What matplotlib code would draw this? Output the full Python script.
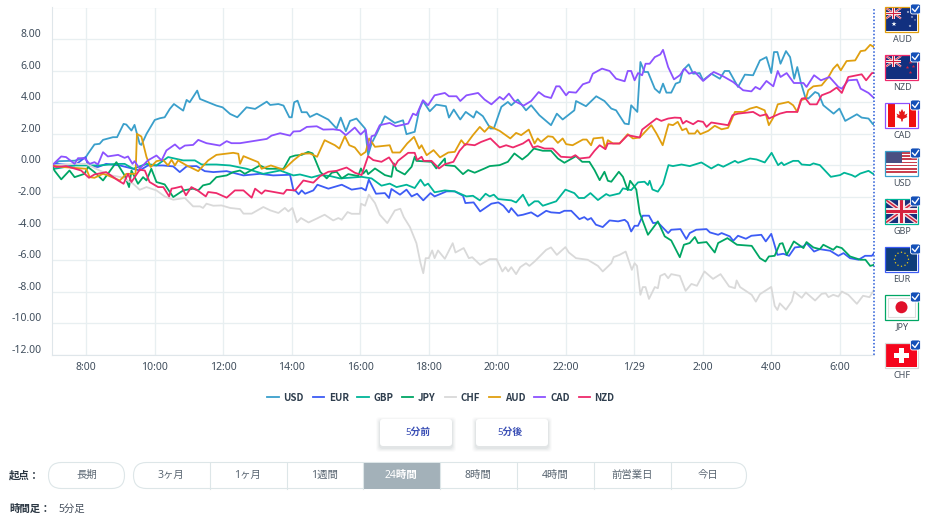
import matplotlib
matplotlib.use("Agg")
import matplotlib.pyplot as plt
from matplotlib.patches import FancyBboxPatch, Rectangle, Polygon, Circle
from matplotlib.transforms import ScaledTranslation

plt.rcParams['font.family'] = ['Noto Sans', 'Noto Sans CJK JP', 'DejaVu Sans']

# (hour, change %), hour 24 = 0:00 on 1/29
usd = [(7,0),(7.2,.27),(7.66,.3),(7.98,.5),(8.05,.74),(8.24,1.33),(8.39,1.37),(8.49,1.62),(8.78,1.79),(8.9,1.79),(9.09,2.63),(9.17,2.59),(9.32,2.21),(9.41,2.57),(9.56,1.37),(9.61,1.3),(9.76,2.0),(10,2.88),(10.15,2.99),(10.29,3.05),(10.44,3.58),(10.56,3.89),(10.83,3.47),(10.93,4.15),(11.02,4.0),(11.24,4.74),(11.32,4.21),(11.56,4.0),(11.8,3.79),(11.98,3.68),(12.2,3.26),(12.41,3.05),(12.68,3.68),(12.93,3.58),(13.27,4.04),(13.37,3.83),(13.61,3.89),(13.76,3.79),(13.93,3.05),(14,3.05),(14.07,4.0),(14.17,4.1),(14.29,3.37),(14.44,3.37),(14.53,3.07),
       (14.73,3.28),(15.07,2.9),(15.31,2.34),(15.43,3.03),(15.58,2.17),(15.7,2.82),(15.89,2.97),(16.14,2.34),(16.23,.65),(16.33,1.39),(16.48,2.02),(16.72,3.12),(17.01,2.69),(17.25,2.86),(17.35,1.98),(17.59,2.13),(17.72,3.49),(17.83,4.08),(18.03,3.43),(18.22,3.85),(18.5,3.75),(18.59,3.03),(18.73,3.54),(18.92,2.91),(19.08,3.39),(19.31,3.03),(19.39,3.43),(19.58,3.12),(19.8,2.34),(19.9,2.34),(20.12,3.71),(20.31,4.02),(20.41,3.81),(20.6,4.17),(20.84,3.49),(20.99,3.81),(21.23,3.18),(21.57,2.55),(21.74,3.28),(21.91,2.91),(22.25,3.49),(22.3,4.08),(22.59,3.75),(22.89,4.38),(23.13,4.08),(23.33,3.6),(23.47,3.49),(23.72,2.65),(23.84,2.61),(23.91,3.81),(24.09,3.39),(24.18,6.55),(24.3,5.92),(24.4,5.92),(24.6,4.86),(24.74,4.59),(24.84,5.18),(24.94,4.61),(25.08,4.61),(25.21,5.18),(25.33,5.28),(25.42,6.02),(25.59,6.4),(25.72,5.81),(25.91,5.85),(26.01,5.39),(26.25,5.81),(26.5,5.49),(26.64,5.98),(26.77,5.98),(27.03,4.97),(27.23,5.75),(27.47,5.71),(27.67,6.65),(27.86,6.86),(28,5.85),(28.08,7.18),(28.18,7.18),(28.27,6.44),(28.43,7.24),(28.55,6.86),(28.67,5.49),(28.76,6.23),(28.86,5.28),(28.99,4.34),(29.08,4.23),(29.28,4.65),(29.38,4.55),(29.52,3.81),(29.82,3.28),(29.99,3.6),(30.16,2.82),(30.5,3.24),(30.64,3.03),(30.84,2.97),(30.97,2.61),(31,2.65)]

eur = [(7,0),(7.12,.1),(7.66,0),(7.98,.53),(8.05,0),(8.34,-.1),(8.58,.1),(8.98,0),(9.37,-.21),(9.56,-.32),(9.8,0),(10.24,0),(10.54,-.06),(10.73,-.42),(10.93,-.06),(11.22,-.04),(11.46,-.36),(11.71,-.42),(12.1,-.36),(12.59,-.63),(13.07,-.53),(13.46,-.63),(13.95,-.59),(14.05,-1.58),(14.1,-1.58),(14.2,-1.82),(14.29,-1.58),(14.39,-1.79),(14.63,-1.58),(14.75,-1.22),(15.07,-1.47),(15.46,-1.22),(15.75,-1.53),(16.04,-1.43),(16.16,-1.58),(16.25,-.9),(16.46,-1.79),(16.72,-1.75),(16.84,-2.06),(16.91,-1.49),(17.16,-1.85),(17.35,-1.53),(17.5,-1.96),(17.66,-1.79),(17.84,-2.21),(18.05,-1.75),(18.17,-1.96),(18.52,-1.64),(18.76,-1.64),(19,-1.92),(19.07,-2.38),(19.31,-2.34),(19.5,-2.91),(19.83,-2.42),(20.03,-2.34),(20.18,-2.55),(20.34,-2.97),(20.41,-2.7),(20.6,-3.18),(20.75,-3.12),(20.99,-2.97),(21.18,-3.23),(21.43,-2.87),(21.57,-2.97),(21.82,-3.01),(21.96,-2.87),(22.16,-2.87),(22.4,-3.4),(22.54,-3.27),(22.64,-3.44),(22.74,-3.33),(22.88,-3.75),(23.08,-3.9),(23.28,-3.48),(23.53,-3.54),(23.72,-3.44),(23.81,-3.61),(23.91,-4.18),(24.01,-3.82),(24.11,-3.82),(24.25,-3.18),(24.43,-3.18),(24.55,-3.65),(24.69,-3.61),(24.99,-4.28),(25.08,-4.07),(25.35,-4.03),(25.52,-4.66),(25.62,-4.28),(25.81,-4.07),(26.11,-4.03),(26.21,-4.24),(26.45,-4.39),(26.55,-4.28),(26.79,-4.49),(26.89,-4.77),(27.03,-4.45),(27.26,-4.64),(27.42,-4.45),(27.71,-4.39),(27.84,-4.81),(28,-4.33),(28.08,-4.91),(28.18,-5.66),(28.35,-5.59),(28.52,-5.72),(28.69,-5.19),(28.94,-5.13),(29.03,-4.92),(29.25,-5.45),(29.42,-5.3),(29.72,-5.4),(29.96,-5.72),(30.11,-5.55),(30.3,-5.87),(30.55,-5.97),(30.74,-5.72),(30.94,-5.72),(31,-5.55)]

gbp = [(7,0),(7.07,-.21),(7.66,0),(8.39,0),(8.88,.1),(9.12,.1),(9.37,-.21),(9.76,.1),(10.05,0),(10.39,.53),(10.83,.32),(11.17,.32),(11.37,.06),(11.8,.06),(12.2,0),(12.68,-.21),(13.17,-.53),(13.66,-.32),(14.05,-.63),(14.24,-.57),(14.58,-.76),(14.83,-.61),(15.12,-.67),(15.41,-.82),(16.04,-.72),(16.33,-.82),(16.62,-1.28),(16.86,-1.15),(17.06,-1.37),(17.35,-1.22),(17.59,-1.43),(17.76,-.9),(17.88,-1.28),(17.98,-1.15),(18.17,-1.7),(18.47,-1.58),(18.76,-1.64),(19.1,-1.96),(19.29,-1.92),(19.49,-2.21),(19.66,-1.79),(19.78,-1.96),(19.9,-1.85),(20.03,-2.13),(20.41,-2.21),(20.55,-2.34),(20.75,-1.85),(20.92,-2.55),(21.09,-2.27),(21.2,-2.27),(21.33,-2.55),(21.72,-2.27),(21.99,-1.53),(22.25,-1.75),(22.38,-2.06),(22.54,-2.06),(22.72,-1.75),(22.94,-2.19),(23.18,-1.81),(23.28,-1.92),(23.57,-1.77),(23.67,-1.45),(23.91,-1.56),(24.11,-1.07),(24.3,-1.03),(24.4,-1.24),(24.45,-.97),(24.53,-1.52),(24.69,-1.66),(24.84,-1.18),(25,.02),(25.13,-.04),(25.38,.06),(25.62,-.04),(25.96,.19),(26.25,-.19),(26.45,.06),(26.6,-.08),(26.94,.29),(27.03,.17),(27.38,.44),(27.57,.38),(27.81,.19),(28.01,.8),(28.2,.02),(28.3,.19),(28.37,.02),(28.64,.29),(28.79,.29),(28.89,.06),(29.13,.02),(29.23,.13),(29.42,.02),(29.74,-.72),(30.01,-.61),(30.13,-.46),(30.35,-.61),(30.45,-.72),(30.6,-.51),(30.84,-.34),(31,-.57)]

jpy = [(7,0),(7.07,-.32),(7.27,-.88),(7.51,-.32),(7.66,-.74),(7.95,-.53),(8.05,-.1),(8.24,-.42),(8.49,-.95),(8.88,.21),(9.12,-.63),(9.25,-1.37),(9.32,-.32),(9.51,-1.16),(9.66,-.74),(9.76,-.95),(9.9,-.21),(10.05,-1.05),(10.29,-1.2),(10.54,-2.0),(10.83,-1.58),(11.12,-1.47),(11.27,-1.58),(11.41,-1.26),(11.61,-1.16),(11.8,-.74),(12.1,-.63),(12.29,-.42),(12.49,-.32),(12.63,-.53),(13.07,0),(13.27,-.21),(13.76,-.21),(13.95,.53),(14.1,.63),(14.29,.67),(14.48,.86),(14.61,.76),(14.83,-.4),(15.02,-.82),(15.17,-.46),(15.31,-.4),(15.46,-.82),(15.65,-.55),(15.94,-.67),(16.02,-.19),(16.09,-.51),(16.18,-.29),(16.23,-.55),(16.43,-.19),(16.72,-.61),(16.91,-.72),(16.98,.13),(17.06,-.29),(17.3,-.57),(17.5,-.08),(17.59,.55),(17.64,.29),(18.08,.23),(18.22,-.19),(18.47,.44),(18.49,.02),(18.76,-.04),(19,-.55),(19.15,-.29),(19.34,-.46),(19.63,-.19),(19.78,-.04),(20.07,.02),(20.31,.23),(20.5,.76),(20.73,.38),(20.89,.65),(21.07,1.07),(21.33,.93),(21.57,.93),(21.77,.44),(21.96,.17),(22.3,.59),(22.48,.23),(22.69,.23),(22.84,-.29),(22.99,-.93),(23.13,-.4),(23.23,-.97),(23.33,-1.03),(23.55,-.4),(23.67,-.72),(23.81,-1.56),(23.88,-.97),(24.01,-1.35),(24.06,-1.53),(24.16,-3.01),(24.4,-4.39),(24.69,-3.54),(24.89,-4.49),(25.08,-4.75),(25.33,-5.81),(25.45,-5.02),(25.62,-4.91),(25.77,-4.53),(25.86,-4.91),(26.11,-4.85),(26.35,-5.51),(26.45,-4.91),(26.72,-4.6),(27,-5.02),(27.43,-5.09),(27.67,-5.87),(27.83,-6.08),(27.93,-5.76),(28.1,-5.72),(28.25,-4.96),(28.33,-4.92),(28.45,-5.66),(28.66,-4.81),(28.94,-5.23),(29.03,-4.85),(29.23,-5.19),(29.42,-5.3),(29.52,-5.02),(29.81,-5.34),(29.91,-5.13),(30.06,-5.23),(30.3,-5.76),(30.6,-5.97),(30.75,-5.97),(30.89,-6.36),(31,-6.29)]

chf = [(7,0),(7.66,.1),(8,.1),(8.39,-.32),(8.73,-.63),(9.02,-.74),(9.37,-1.16),(9.56,-1.54),(9.76,-1.37),(10.05,-1.58),(10.29,-1.96),(10.54,-2.17),(10.88,-2.06),(11.12,-2.59),(11.32,-2.59),(11.41,-2.69),(11.51,-2.42),(11.71,-2.55),(11.95,-2.53),(12.2,-2.69),(12.49,-2.76),(12.59,-3.05),(12.83,-3.05),(13.17,-2.63),(13.37,-2.84),(13.61,-3.01),(13.8,-2.69),(13.9,-2.91),(14.02,-2.69),(14.15,-3.6),(14.27,-3.33),(14.49,-3.61),(14.96,-3.12),(15.21,-3.48),(15.36,-3.33),(15.46,-3.44),(15.63,-2.95),(15.75,-3.06),(15.99,-3.06),(16.02,-2.42),(16.14,-2.55),(16.25,-1.85),(16.43,-2.38),(16.57,-3.12),(16.79,-3.65),(17.01,-2.85),(17.17,-2.74),(17.27,-3.27),(17.45,-3.9),(17.64,-4.92),(17.76,-6.19),(17.84,-6.82),(17.91,-5.87),(18,-5.87),(18.1,-5.38),(18.17,-5.87),(18.27,-5.38),(18.47,-5.91),(18.7,-4.92),(18.78,-5.51),(19.02,-5.23),(19.17,-5.87),(19.27,-5.81),(19.5,-6.29),(19.78,-5.93),(19.98,-5.93),(20.15,-6.71),(20.24,-6.44),(20.32,-6.71),(20.41,-6.44),(20.55,-6.88),(20.67,-6.44),(20.84,-6.19),(20.94,-6.36),(21.09,-6.08),(21.43,-5.34),(21.57,-5.19),(21.74,-5.66),(21.99,-5.17),(22.09,-5.51),(22.3,-5.87),(22.64,-5.97),(22.94,-6.36),(23.08,-6.71),(23.33,-6.19),(23.4,-5.8),(23.57,-5.66),(23.75,-5.45),(23.93,-6.61),(24.01,-6.19),(24.08,-6.36),(24.18,-8.19),(24.25,-7.7),(24.33,-7.7),(24.43,-8.45),(24.6,-7.7),(24.69,-7.77),(24.76,-6.99),(24.89,-6.86),(24.99,-7.14),(25.08,-6.88),(25.33,-6.99),(25.5,-7.94),(25.67,-7.5),(25.83,-7.62),(26.05,-6.71),(26.3,-7.18),(26.52,-6.88),(26.77,-7.66),(26.94,-7.77),(26.99,-7.28),(27.09,-7.7),(27.43,-8.19),(27.55,-8.62),(27.67,-8.15),(28,-7.69),(28.1,-8.89),(28.18,-9.15),(28.25,-8.73),(28.43,-9.13),(28.6,-8.6),(28.67,-7.99),(28.89,-8.38),(29.01,-8.04),(29.28,-8.55),(29.47,-8.13),(29.59,-8.09),(29.67,-8.34),(29.81,-8.19),(29.96,-8.3),(30.06,-7.98),(30.25,-8.19),(30.5,-8.76),(30.68,-8.25),(30.87,-8.34),(31,-7.87)]

aud = [(7,0),(7.32,-.1),(8,-.21),(8.1,-.74),(8.24,-.78),(8.49,-.53),(8.63,-.63),(8.98,-.95),(9.17,-.53),(9.44,-.53),(9.48,2.0),(9.61,1.83),(9.76,.53),(9.88,-.1),(10.05,.27),(10.24,.36),(10.39,0),(10.49,.36),(10.59,0),(10.68,.32),(10.93,0),(11.27,-.36),(11.56,.32),(11.8,.67),(12.29,.8),(12.44,.74),(12.49,.1),(12.59,.59),(13.02,.21),(13.12,-.21),(13.39,0),(13.76,-.27),(14.05,.32),(14.29,.74),(14.53,.76),(14.74,.55),(14.96,1.6),(15.26,1.28),(15.39,1.07),(15.55,1.85),(15.68,1.28),(15.84,1.14),(16.02,.65),(16.16,.86),(16.26,1.71),(16.43,1.18),(16.86,1.28),(16.94,.82),(17.16,.82),(17.37,1.39),(17.57,1.81),(17.72,1.07),(17.79,1.28),(17.94,.65),(18.14,.97),(18.33,.51),(18.57,.82),(18.76,.86),(18.95,1.6),(19.07,1.28),(19.29,1.92),(19.49,2.44),(19.63,2.13),(19.78,2.48),(20.07,2.19),(20.38,1.71),(20.55,2.06),(20.7,1.92),(20.92,2.27),(21.09,1.39),(21.18,1.71),(21.28,1.49),(21.48,1.85),(21.62,1.81),(21.77,1.43),(21.91,1.71),(22.01,1.35),(22.2,1.28),(22.5,1.64),(22.61,1.64),(22.74,1.28),(22.81,1.71),(23.08,1.77),(23.15,1.07),(23.23,1.6),(23.38,1.39),(23.57,1.39),(23.81,1.98),(23.96,1.71),(24.16,1.77),(24.5,2.55),(24.65,2.02),(24.83,1.28),(25,2.61),(25.13,2.55),(25.27,2.76),(25.4,2.23),(25.52,2.34),(25.59,2.02),(25.77,2.02),(25.84,2.23),(25.93,1.98),(26.16,2.19),(26.35,2.51),(26.55,2.29),(26.74,2.38),(26.94,3.39),(27.18,3.39),(27.38,3.6),(27.57,3.71),(27.81,3.49),(27.93,2.55),(28.06,3.03),(28.19,3.87),(28.5,4.02),(28.64,3.81),(28.76,3.39),(28.86,4.13),(29.01,4.23),(29.08,4.76),(29.23,5.01),(29.47,5.07),(29.67,5.6),(29.81,6.13),(29.93,6.4),(30.03,6.02),(30.2,6.61),(30.45,6.65),(30.61,7.24),(30.74,7.28),(30.89,7.64),(31,7.49)]

cad = [(7,0),(7.27,.57),(7.41,.53),(7.66,.1),(7.76,.46),(7.95,.46),(8.1,.1),(8.24,.21),(8.34,.06),(8.49,.84),(8.63,.57),(8.93,.67),(9.12,.48),(9.22,.57),(9.35,.1),(9.41,.27),(9.56,-.21),(9.8,.32),(10.05,.63),(10.2,.32),(10.34,.95),(10.59,1.33),(10.73,1.05),(10.88,1.26),(11.12,1.3),(11.27,1.62),(11.51,1.41),(11.9,1.26),(12.1,1.54),(12.24,1.41),(12.49,1.41),(12.98,1.58),(13.27,1.68),(13.41,1.89),(13.66,2.04),(13.95,1.89),(14.05,2.15),(14.24,2.17),(14.44,2.44),(14.73,2.48),(14.92,2.27),(15.21,2.29),(15.41,2.23),(15.58,1.92),(15.84,2.4),(16.01,1.96),(16.16,2.27),(16.25,.97),(16.33,1.85),(16.43,1.92),(16.57,2.55),(16.86,2.69),(17.04,2.48),(17.4,2.65),(17.54,3.28),(17.64,3.18),(17.83,4.13),(17.98,3.81),(18.17,4.44),(18.47,4.59),(18.59,4.38),(18.81,4.38),(18.92,4.08),(19.1,4.44),(19.44,4.59),(19.63,4.17),(19.83,3.87),(20.07,4.34),(20.18,4.17),(20.34,4.55),(20.5,4.08),(20.77,3.79),(20.99,4.08),(21.21,4.65),(21.38,4.38),(21.57,4.27),(21.72,5.01),(21.82,5.01),(22.01,4.44),(22.09,4.65),(22.3,4.61),(22.5,5.14),(22.69,5.28),(22.79,5.81),(23.06,6.13),(23.28,5.98),(23.47,5.49),(23.72,5.33),(23.81,5.98),(23.91,5.98),(24.01,5.39),(24.11,5.85),(24.23,5.71),(24.33,6.44),(24.45,6.44),(24.6,6.86),(24.76,7.03),(24.84,7.32),(24.99,6.23),(25.16,5.45),(25.33,5.71),(25.47,6.13),(25.6,5.81),(25.77,5.92),(26.01,5.35),(26.32,5.92),(26.6,5.64),(26.89,5.28),(27.18,4.76),(27.42,4.69),(27.54,4.97),(27.67,4.82),(27.86,5.35),(28.06,5.01),(28.19,5.98),(28.27,5.6),(28.45,5.85),(28.66,5.22),(28.94,5.22),(29.03,4.97),(29.25,5.71),(29.45,5.39),(29.7,5.6),(29.96,4.97),(30.06,4.86),(30.25,5.39),(30.5,5.43),(30.61,4.86),(30.84,4.59),(31,4.27)]

nzd = [(7,0),(7.12,-.1),(7.41,-.04),(7.85,-.32),(8.08,-.78),(8.24,-.57),(8.58,-.42),(8.93,-.95),(9.09,-1.16),(9.22,-.53),(9.32,-1.05),(9.56,-.27),(9.71,-.32),(9.85,-1.05),(10.1,-1.37),(10.25,-1.37),(10.42,-1.96),(10.49,-1.47),(10.59,-1.43),(10.78,-1.33),(10.91,-1.89),(11.07,-1.37),(11.25,-1.58),(11.49,-1.96),(11.56,-1.68),(11.8,-1.75),(12.1,-2.04),(12.34,-1.58),(12.59,-1.58),(12.83,-2.04),(12.93,-1.47),(13.12,-1.79),(13.22,-1.58),(13.76,-1.79),(13.85,-1.54),(14.1,-1.58),(14.34,-.95),(14.63,-1.09),(14.83,-.67),(15.07,-.4),(15.31,-.34),(15.6,-.13),(15.84,-.46),(16.04,-.61),(16.23,.59),(16.38,.34),(16.62,.23),(16.84,.51),(17.01,-.04),(17.1,.29),(17.4,.8),(17.59,.8),(17.66,.34),(17.79,.55),(17.85,.29),(18.08,.29),(18.3,-.19),(18.47,.08),(18.72,.23),(18.9,.93),(19.07,1.35),(19.34,1.28),(19.53,1.49),(19.8,1.71),(20.07,1.14),(20.26,1.28),(20.46,1.14),(20.75,1.39),(20.92,1.64),(21.04,1.14),(21.18,1.22),(21.38,1.07),(21.62,1.07),(21.86,.55),(22.16,.51),(22.28,.65),(22.4,.44),(22.69,.51),(22.84,.93),(22.99,1.28),(23.16,1.03),(23.23,1.39),(23.57,1.39),(23.81,1.92),(24.16,1.77),(24.23,2.27),(24.65,2.97),(24.79,2.82),(24.99,2.97),(25.18,3.03),(25.35,3.01),(25.42,2.65),(25.52,2.82),(25.72,2.61),(25.86,2.82),(26.01,2.76),(26.11,2.44),(26.25,2.72),(26.74,2.55),(26.87,3.18),(27.03,3.28),(27.47,3.39),(27.67,3.14),(27.86,3.24),(27.93,2.97),(28.25,3.28),(28.45,3.39),(28.76,3.39),(28.89,4.23),(28.99,4.27),(29.13,3.87),(29.33,3.87),(29.47,4.44),(29.72,4.65),(29.91,4.93),(30.06,4.59),(30.25,5.6),(30.5,5.71),(30.64,5.77),(30.77,5.39),(30.94,5.85),(31,5.85)]

currencies = ['USD', 'EUR', 'GBP', 'JPY', 'CHF', 'AUD', 'CAD', 'NZD']
series = [usd, eur, gbp, jpy, chf, aud, cad, nzd]
colors = ['#3a9fcb', '#3d5cf5', '#00b598', '#00a664', '#d9d9d9', '#e09f0f', '#8c52ff', '#ee2a6b']

y_ticks = [8, 6, 4, 2, 0, -2, -4, -6, -8, -10, -12]
x_ticks = [8, 10, 12, 14, 16, 18, 20, 22, 24, 26, 28, 30]
x_labels = ['8:00', '10:00', '12:00', '14:00', '16:00', '18:00', '20:00', '22:00', '1/29', '2:00', '4:00', '6:00']

flag_order = ['AUD', 'NZD', 'CAD', 'USD', 'GBP', 'EUR', 'JPY', 'CHF']
flag_colors = ['#e09f0f', '#ee2a6b', '#8c52ff', '#3a9fcb', '#00b598', '#3d5cf5', '#00a664', '#d9d9d9']
range_labels = ['3ヶ月', '1ヶ月', '1週間', '24時間', '8時間', '4時間', '前営業日', '今日']

W, H = 930, 527
fig = plt.figure(figsize=(W / 100, H / 100), dpi=100)
ax = fig.add_axes([52 / W, 1 - 355 / H, (874 - 52) / W, (355 - 7.5) / H])

for name, pts, col in zip(currencies, series, colors):
    t, v = zip(*pts)
    ax.plot(t, v, color=col, lw=1.3, label=name, solid_joinstyle='round')

ax.set_xlim(7, 31)
ax.set_ylim(-12, 10)
ax.set_yticks(y_ticks + [10])
ax.set_yticklabels([f'{v:.2f}' for v in y_ticks] + [''], fontsize=7.5, color='#3f4d5c', va='bottom')
ax.set_xticks(x_ticks)
ax.set_xticklabels(x_labels, fontsize=7.5, color='#3f4d5c')
ax.tick_params(length=0)
ax.tick_params(axis='y', pad=7.5)
ax.tick_params(axis='x', pad=5)
# y labels sit a little above their gridlines, 1px lower than plain va=bottom
for lab in ax.get_yticklabels():
    lab.set_transform(lab.get_transform() + ScaledTranslation(0, -1 / 100, fig.dpi_scale_trans))
ax.grid(True, color='#e8eff1', lw=.95)
ax.set_axisbelow(True)
for s in ['top', 'right']:
    ax.spines[s].set_visible(False)
for s in ['left', 'bottom']:
    ax.spines[s].set_color('#dfe6ea')
ax.axvline(31, color='#2457d6', lw=1.1, ls=(0, (1, 1.3)), clip_on=False)

leg = ax.legend(loc='upper center', bbox_to_anchor=(389 / 822, -0.083), ncol=8, frameon=False,
                handlelength=1.15, handletextpad=0.5, columnspacing=0.9,
                labelcolor='#2f3e4e', prop={'family': 'Noto Sans CJK JP', 'weight': 'bold', 'size': 7})

# everything outside the plot, in pixel coordinates
ov = fig.add_axes([0, 0, 1, 1], zorder=5)
ov.set_xlim(0, W)
ov.set_ylim(H, 0)
ov.axis('off')
ov.patch.set_alpha(0)


def rect(x, y, w, h, c, z=6, **kw):
    ov.add_patch(Rectangle((x, y), w, h, fc=c, ec='none', zorder=z, **kw))


def union_jack(x, y, w, h, z=7):
    s = w / 31
    rect(x, y, w, h, '#1a2f7c', z)
    ov.plot([x, x + w], [y, y + h], color='#f3d9dd', lw=3 * s, zorder=z, solid_capstyle='butt')
    ov.plot([x, x + w], [y + h, y], color='#f3d9dd', lw=3 * s, zorder=z, solid_capstyle='butt')
    ov.plot([x, x + w], [y, y + h], color='#d5213f', lw=1.1 * s, zorder=z, solid_capstyle='butt')
    ov.plot([x, x + w], [y + h, y], color='#d5213f', lw=1.1 * s, zorder=z, solid_capstyle='butt')
    rect(x + w * .39, y, w * .22, h, '#f6e6e8', z)
    rect(x, y + h * .36, w, h * .28, '#f6e6e8', z)
    rect(x + w * .445, y, w * .11, h, '#d5213f', z)
    rect(x, y + h * .43, w, h * .14, '#d5213f', z)


def draw_flag(code, edge, x, y):
    w, h = 33, 24.5
    ix, iy, iw, ih = x + 1, y + 1, w - 2, h - 2
    rect(ix, iy, iw, ih, 'white')
    if code in ('AUD', 'NZD'):
        rect(ix, iy, iw, ih, '#12307f')
        union_jack(ix, iy, 15, 10.5)
        if code == 'AUD':
            ov.scatter([ix + 8, ix + 22, ix + 26, ix + 24, ix + 29], [iy + 16, iy + 4, iy + 9, iy + 18, iy + 12],
                       s=[14, 4, 3, 4, 2], c='white', marker='*', lw=0, zorder=8)
        else:
            ov.scatter([ix + 24, ix + 21, ix + 27, ix + 24], [iy + 6, iy + 11, iy + 10, iy + 16],
                       s=7, c='#d5213f', marker='*', lw=0, zorder=8)
    elif code == 'CAD':
        rect(ix + 2, iy, 7, ih, '#f01010')
        rect(ix + 23, iy, 7, ih, '#f01010')
        cx, cy = ix + 16, iy + 11
        leaf = [(0, -6), (1.5, -3), (3, -4), (2.5, 0), (5.5, -1.5), (4.5, 1), (5.5, 2), (1, 4), (.6, 6.5),
                (-.6, 6.5), (-1, 4), (-5.5, 2), (-4.5, 1), (-5.5, -1.5), (-2.5, 0), (-3, -4), (-1.5, -3)]
        ov.add_patch(Polygon([(cx + a, cy + b) for a, b in leaf], fc='#e51818', ec='none', zorder=8))
    elif code == 'USD':
        for i in range(0, 7):
            rect(ix, iy + i * ih / 7, iw, ih / 14, '#c9404f')
        rect(ix, iy, 16, 11, '#4a4f82', 8)
    elif code == 'GBP':
        union_jack(ix, iy, iw, ih)
    elif code == 'EUR':
        rect(ix, iy, iw, ih, '#0f3d7a')
        for a, b in [(0, -7), (3.5, -6), (6, -3.5), (7, 0), (6, 3.5), (3.5, 6), (0, 7), (-3.5, 6), (-6, 3.5), (-7, 0), (-6, -3.5), (-3.5, -6)]:
            ov.add_patch(Circle((ix + iw / 2 + a, iy + ih / 2 + b), .7, fc='#e6c619', ec='none', zorder=8))
    elif code == 'JPY':
        ov.add_patch(Rectangle((ix + 2, iy + 2), iw - 4, ih - 4, fc='white', ec='#dddddd', lw=.8, zorder=7))
        ov.add_patch(Circle((ix + iw / 2, iy + ih / 2), 6, fc='#e0102a', ec='none', zorder=8))
    elif code == 'CHF':
        rect(ix, iy, iw, ih, '#f5051c')
        rect(ix + iw / 2 - 2.5, iy + 4, 5, ih - 8, 'white', 8)
        rect(ix + iw / 2 - 7.5, iy + ih / 2 - 2.5, 15, 5, 'white', 8)
    ov.add_patch(Rectangle((x, y), w, h, fc='none', ec=edge, lw=.9, zorder=9))
    # check badge
    ov.add_patch(FancyBboxPatch((x + 26.5, y - 2), 8, 8, boxstyle='round,pad=1,rounding_size=2',
                                fc='#1450b8', ec='white', lw=.6, zorder=10))
    ov.plot([x + 27.5, x + 30, x + 33.5], [y + 2, y + 4.5, y - .5], color='white', lw=1, zorder=11)
    ov.text(x + 17, y + 32, code, fontsize=6.5, color='#47515e', ha='center', va='center', zorder=9)


for i, (code, col) in enumerate(zip(flag_order, flag_colors)):
    draw_flag(code, col, 885, 7 + 48 * i)


def pill(x, y, w, h, r=13, fc='white', ec='#dde6e8', lw=.8, z=6, **kw):
    ov.add_patch(FancyBboxPatch((x + r, y + r), w - 2 * r, h - 2 * r, boxstyle=f'round,pad={r},rounding_size={r}',
                                fc=fc, ec=ec, lw=lw, zorder=z, **kw))


# 5min buttons with a soft shadow
for bx, label, tx in [(380, '5分前', 418), (476, '5分後', 510)]:
    for d, a in [(4, .02), (3, .03), (2, .04), (1, .05)]:
        pill(bx - d, 419 - d + 2, 72 + 2 * d, 27 + 2 * d, r=4, fc='#33475b', ec='none', lw=0, alpha=a)
    pill(bx, 419, 72, 27, r=3, ec='none', lw=0, z=7)
    ov.text(tx, 432.5, label, fontsize=7, color='#3a4fb5', fontweight='bold', ha='center', va='center', zorder=8)

ov.text(9, 476, '起点：', fontsize=7.5, color='#2b3743', fontweight='bold', va='center')
pill(48.5, 462.5, 76, 26)
ov.text(87, 475.5, '長期', fontsize=7.5, color='#5a6672', ha='center', va='center', zorder=8)

pill(133.5, 462.5, 613, 26)
rect(363, 463, 76.5, 25.5, '#a3b1b9', 7)
for sep in [209.5, 286.5, 363, 439.5, 516.5, 593.5, 670.5]:
    ov.plot([sep, sep], [462.5, 488.5], color='#dde6e8', lw=.8, zorder=7)
for lab, cx in zip(range_labels, [171, 247, 324, 401, 478, 555, 632, 708]):
    active = lab == '24時間'
    ov.text(cx, 475.5, lab, fontsize=7.5, color='white' if active else '#5a6672',
            fontweight='bold' if active else 'normal', ha='center', va='center', zorder=8)

ov.text(9, 509, '時間足：', fontsize=7.5, color='#2b3743', fontweight='bold', va='center')
ov.text(58, 509, '5分足', fontsize=7.5, color='#47515e', va='center')

fig.savefig('out.png', dpi=100, facecolor='white')
